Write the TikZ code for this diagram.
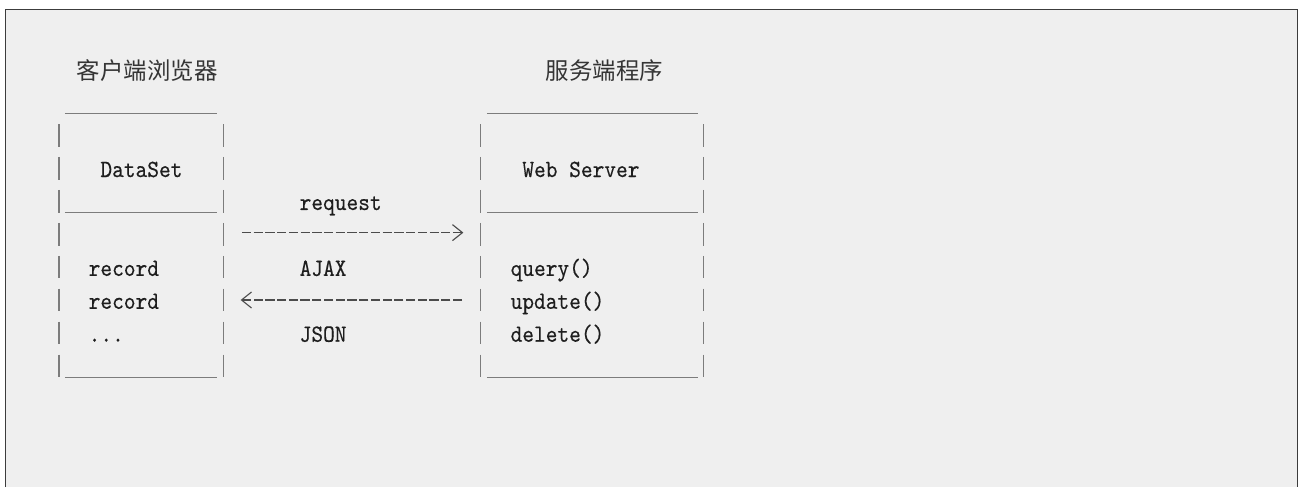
\documentclass[tikz,border=0pt]{standalone}
\usepackage{fontspec}
\usepackage{xcolor}
\usepackage{tikz}
\usetikzlibrary{arrows.meta}
\newfontfamily\cjk{Noto Sans CJK SC}
\newfontfamily\monofont[FakeStretch=0.9, FakeBold=0.3]{lmmono10-regular.otf}

\definecolor{pagebg}{HTML}{EFEFEF}
\definecolor{framegray}{HTML}{3C3C3C}
\definecolor{inkgray}{HTML}{1E1E1E}
\definecolor{bargray}{HTML}{7C7C7C}

\begin{document}
\begin{tikzpicture}[x=0.5pt, y=-0.5pt,
		monotext/.style = {anchor=base west, inner sep=0pt, text=inkgray, font=\fontsize{12.4pt}{14pt}\selectfont\monofont},
		cjktext/.style = {anchor=west, inner sep=0pt, text=inkgray!90, font=\fontsize{11.72pt}{14pt}\selectfont\cjk},
		bar/.style = {bargray, line width=0.55pt},
		flow/.style = {inkgray!80, line width=0.55pt, dash pattern=on 4.6pt off 1.26pt, dash phase=5.2pt, -{Straight Barb[length=5pt, width=8pt]}}]
		\def\cw{11.72};
		\def\lh{32.94};
		\def\top{135.3};
		
		\useasboundingbox (0,0) rectangle (1300,487);
		\fill[white] (0,0) rectangle (1300,487);
		\fill[pagebg] (5.5,9.5) rectangle (1297.5,487);
		\draw[framegray, line width=0.7pt] (5.5,487) -- (5.5,9.5) -- (1297.5,9.5) -- (1297.5,487);
		
		% the two boxes, drawn the way the characters sit
		\foreach \a/\b in {0/14, 36/55} {
			\foreach \r in {0,...,7} {
				\draw[bar] ({59+\a*\cw},{\top+\r*\lh-11.3}) -- ++(0,22.7);
				\draw[bar] ({59+\b*\cw},{\top+\r*\lh-11.3}) -- ++(0,22.7);
			}
			\foreach \r in {-1,2,7}
				\draw[bar] ({59+(\a+0.5)*\cw},{\top+\r*\lh+11.4}) -- ({59+(\b-0.5)*\cw},{\top+\r*\lh+11.4});
		}
		
		\node[cjktext] (client) at ({59+1.5*\cw},70.8) {客户端浏览器};
		\node[cjktext] (server) at ({59+41.5*\cw},70.8) {服务端程序};
		
		\node[monotext] (dataset) at ({59+3.5*\cw},{\top+1*\lh+8.8}) {DataSet};
		\node[monotext] (record1) at ({59+2.5*\cw},{\top+4*\lh+8.8}) {record};
		\node[monotext] (record2) at ({59+2.5*\cw},{\top+5*\lh+8.8}) {record};
		\node[monotext] (more) at ({59+2.5*\cw},{\top+6*\lh+8.8}) {...};
		
		\node[monotext] (webserver) at ({59+39.5*\cw},{\top+1*\lh+8.8}) {Web Server};
		\node[monotext] (query) at ({59+38.5*\cw},{\top+4*\lh+8.8}) {query()};
		\node[monotext] (update) at ({59+38.5*\cw},{\top+5*\lh+8.8}) {update()};
		\node[monotext] (delete) at ({59+38.5*\cw},{\top+6*\lh+8.8}) {delete()};
		
		\node[monotext] (request) at ({59+20.5*\cw},{\top+2*\lh+8.8}) {request};
		\node[monotext] (ajax) at ({59+20.5*\cw},{\top+4*\lh+8.8}) {AJAX};
		\node[monotext] (json) at ({59+20.5*\cw},{\top+6*\lh+8.8}) {JSON};
		
		\coordinate (reqA) at ({59+15.5*\cw},{\top+3*\lh-1.5});
		\coordinate (reqB) at ({59+34.5*\cw},{\top+3*\lh-1.5});
		\coordinate (resA) at ({59+34.5*\cw},{\top+5*\lh});
		\coordinate (resB) at ({59+15.5*\cw},{\top+5*\lh});
		
		\draw[flow] (reqA) -- (reqB);
		\draw[flow] (resA) -- (resB);
	\end{tikzpicture}
\end{document}
